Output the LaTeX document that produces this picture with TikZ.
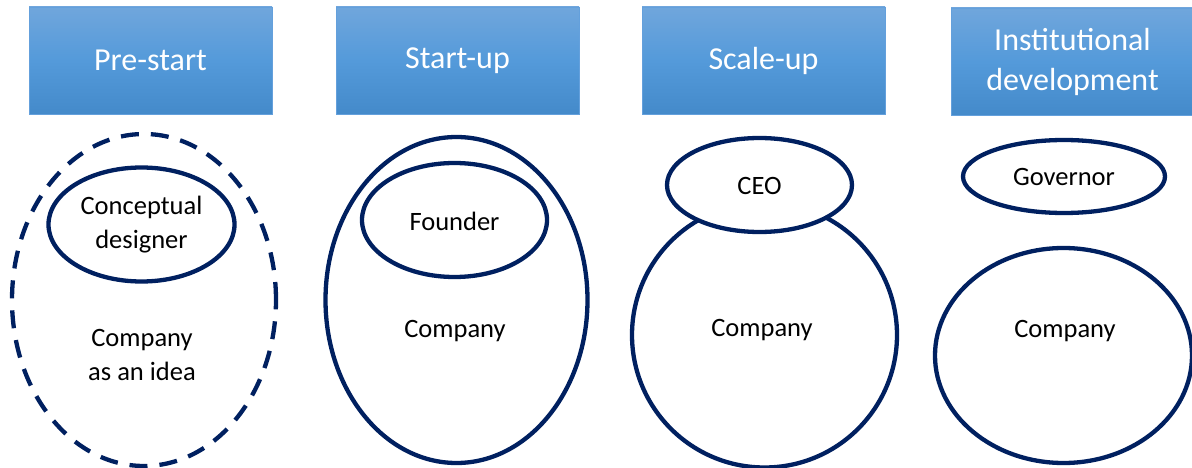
\documentclass[tikz,border=0pt]{standalone}
\usepackage{fontspec}
\setmainfont{Carlito}
\usetikzlibrary{shapes.geometric}
\definecolor{navy}{RGB}{0,32,96}
\definecolor{hdtop}{RGB}{112,166,220}
\definecolor{hdmid}{RGB}{84,154,218}
\definecolor{hdbot}{RGB}{68,138,202}
\definecolor{hdline}{RGB}{100,160,220}
\tikzset{
  header/.style={rectangle, minimum width=243pt, minimum height=107pt, inner sep=0pt,
    top color=hdtop, bottom color=hdbot, middle color=hdmid, draw=hdline, line width=0.8pt,
    text=white, font=\fontsize{32}{40}\selectfont, align=center},
  blob/.style={ellipse, draw=navy, line width=4.3pt, inner sep=0pt, fill=white},
  dashblob/.style={blob, dash pattern=on 18pt off 12pt},
  lbl/.style={font=\fontsize{26.5}{34}\selectfont, align=center, text=black, inner sep=0pt}
}
\begin{document}
\begin{tikzpicture}[x=1pt,y=-1pt]
\useasboundingbox (0,0) rectangle (1192,468);
% headers
\node[header] (h1) at (150.5,60.5) {Pre-start};
\node[header] (h2) at (457.5,60.5) {Start-up};
\node[header] (h3) at (763.5,60.5) {Scale-up};
\node[header] (h4) at (1072.5,61.5) {Institutional\\development};
% Pre-start
\node[dashblob, minimum width=264pt, minimum height=332pt] (e1) at (144,300) {};
\node[blob, minimum width=186pt, minimum height=114pt] (cd) at (141.5,224.5) {};
\node[lbl] (tcd) at (141.5,225) {Conceptual\\designer};
\node[lbl] (tc1) at (142,355) {Company\\as an idea};
% Start-up
\node[blob, minimum width=262pt, minimum height=326pt] (e2) at (456.5,300) {};
\node[blob, minimum width=185pt, minimum height=114pt] (fd) at (454.5,220) {};
\node[lbl] (tfd) at (454.5,221) {Founder};
\node[lbl] (tc2) at (455,331) {Company};
% Scale-up
\node[blob, minimum width=265pt, minimum height=265pt] (e3) at (764.5,335) {};
\node[blob, minimum width=185pt, minimum height=94pt] (ceo) at (759.5,185) {};
\node[lbl] (tceo) at (759.5,186) {CEO};
\node[lbl] (tc3) at (762,330) {Company};
% Institutional
\node[blob, minimum width=202pt, minimum height=73pt] (gov) at (1064,176.5) {};
\node[lbl] (tgov) at (1064,177) {Governor};
\node[blob, minimum width=257pt, minimum height=215pt] (e4) at (1063.5,355.5) {};
\node[lbl] (tc4) at (1065,331) {Company};
\end{tikzpicture}
\end{document}
